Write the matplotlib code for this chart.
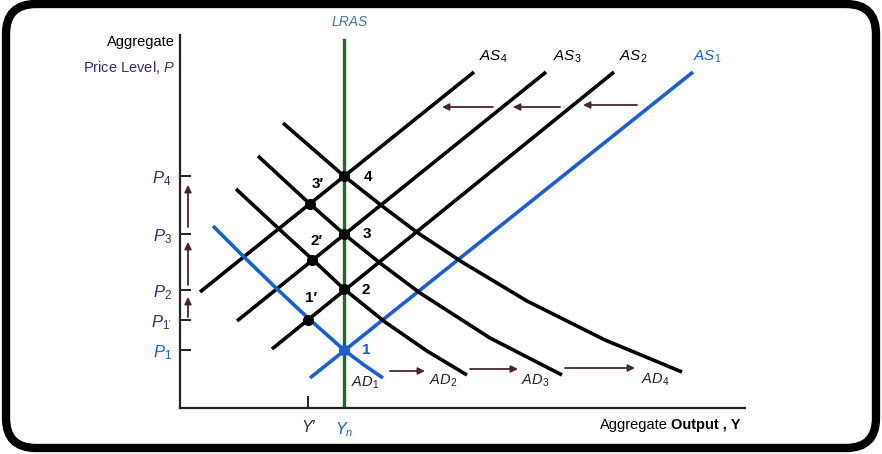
import matplotlib.pyplot as plt
from matplotlib.patches import FancyBboxPatch

plt.rcParams["font.family"] = ["Liberation Sans", "DejaVu Sans"]
plt.rcParams["mathtext.fontset"] = "custom"
plt.rcParams["mathtext.rm"] = "Liberation Sans"
plt.rcParams["mathtext.it"] = "Liberation Sans:italic"
plt.rcParams["mathtext.bf"] = "Liberation Sans:bold"

BLUE = "#1a5fd6"
GREEN = "#1f6b1f"
ARROW = "#4a2433"
PURPLE = "#3b2a6b"

# price levels and output levels
y_n = 16.4
y_prime = 12.8
p_levels = [5.8, 8.8, 11.8, 17.4, 23.2]
p_labels = [r"$P_1$", r"$P_{1'}$", r"$P_2$", r"$P_3$", r"$P_4$"]
p_colors = [BLUE, PURPLE, PURPLE, PURPLE, PURPLE]

# aggregate supply lines (start, end)
as_names = [r"$AS_1$", r"$AS_2$", r"$AS_3$", r"$AS_4$"]
as_x = [(13.0, 51.3), (9.2, 43.4), (5.7, 36.6), (2.0, 29.4)]
as_y = [(3.0, 33.6), (5.9, 33.6), (8.7, 33.6), (11.6, 33.6)]
as_label_x = [52.7, 45.3, 38.7, 31.3]

# aggregate demand curves, read point by point
ad_names = [r"$AD_1$", r"$AD_2$", r"$AD_3$", r"$AD_4$"]
ad1_x = [3.3, 6.4, 9.6, 12.8, 16.4, 18.4, 20.3]
ad1_y = [18.2, 15.1, 12.0, 9.0, 5.8, 4.3, 3.0]
ad2_x = [5.6, 9.8, 13.2, 16.4, 20.5, 24.7, 28.7]
ad2_y = [21.9, 18.0, 14.9, 11.9, 8.6, 5.7, 3.3]
ad3_x = [7.8, 13.0, 16.4, 20.0, 24.0, 31.0, 38.2]
ad3_y = [25.2, 20.4, 17.4, 14.5, 11.5, 7.0, 3.3]
ad4_x = [10.3, 16.4, 20.2, 23.8, 28.2, 34.7, 42.5, 50.2]
ad4_y = [28.5, 23.2, 20.2, 17.5, 14.6, 10.7, 6.8, 3.6]
ad_label_x = [18.5, 26.3, 35.5, 47.5]
ad_label_y = [2.5, 2.7, 2.7, 2.8]

# equilibrium points
pt_x = [16.4, 12.8, 16.4, 13.2, 16.4, 13.0, 16.4]
pt_y = [5.8, 8.8, 11.9, 14.8, 17.4, 20.4, 23.2]
pt_names = ["1", "1\u2032", "2", "2\u2032", "3", "3\u2032", "4"]
pt_label_x = [18.6, 13.1, 18.6, 13.7, 18.7, 13.8, 18.8]
pt_label_y = [5.8, 11.0, 11.8, 16.7, 17.4, 22.4, 23.1]

# shift arrows (start x, end x, y)
as_shift = [(31.3, 26.2, 30.1), (38.0, 33.3, 30.1), (45.7, 40.3, 30.3)]
ad_shift = [(21.0, 24.5, 3.7), (29.0, 33.8, 3.9), (38.5, 45.5, 4.0)]
p_shift = [(9.1, 11.1), (12.3, 16.6), (18.1, 22.3)]

fig = plt.figure(figsize=(8.82, 4.54), dpi=100)

# rounded frame around the whole picture
bg = fig.add_axes((0, 0, 1, 1))
bg.set_xlim(0, 882)
bg.set_ylim(454, 0)
bg.axis("off")
bg.add_patch(FancyBboxPatch((6, 4), 870, 444, boxstyle="round,pad=0,rounding_size=30",
                            facecolor="white", edgecolor="black", linewidth=6))

ax = fig.add_axes((180 / 882, 46 / 454, 565 / 882, 373 / 454))
ax.patch.set_visible(False)
ax.set_xlim(0, 56.5)
ax.set_ylim(0, 37.3)
for side in ("top", "right"):
    ax.spines[side].set_visible(False)
for side in ("left", "bottom"):
    ax.spines[side].set_linewidth(1.6)
    ax.spines[side].set_color("#222222")

# LRAS
ax.plot([y_n, y_n], [0, 36.8], color=GREEN, lw=2.4, zorder=2)
ax.text(y_n + 0.6, 38.6, "LRAS", fontstyle="italic", color="#4a7a8a", fontsize=10,
        ha="center", va="center", clip_on=False)

for i, (xs, ys) in enumerate(zip(as_x, as_y)):
    c = BLUE if i == 0 else "black"
    ax.plot(xs, ys, color=c, lw=2.6, solid_capstyle="butt", zorder=3)
    ax.text(as_label_x[i], 35.1, as_names[i], color=c, fontsize=11, ha="center",
            va="center", clip_on=False)

ad_x = [ad1_x, ad2_x, ad3_x, ad4_x]
ad_y = [ad1_y, ad2_y, ad3_y, ad4_y]
for i in range(4):
    c = BLUE if i == 0 else "black"
    ax.plot(ad_x[i], ad_y[i], color=c, lw=2.6, solid_capstyle="butt",
            solid_joinstyle="round", zorder=3)
    ax.text(ad_label_x[i], ad_label_y[i], ad_names[i], color="#222222", fontsize=10.5,
            ha="center", va="center")

for i in range(len(pt_x)):
    c = BLUE if i == 0 else "black"
    ax.plot(pt_x[i], pt_y[i], "o", color=c, ms=7, zorder=5)
    ax.text(pt_label_x[i], pt_label_y[i], pt_names[i], color=c, fontsize=11,
            fontweight="bold", ha="center", va="center", zorder=6)

arrow_props = dict(arrowstyle="-|>", color=ARROW, lw=1.3, mutation_scale=10,
                   shrinkA=0, shrinkB=0)
for x0, x1, y in as_shift + ad_shift:
    ax.annotate("", xy=(x1, y), xytext=(x0, y), arrowprops=arrow_props)
for y0, y1 in p_shift:
    ax.annotate("", xy=(0.8, y1), xytext=(0.8, y0), arrowprops=arrow_props)

# axes ticks
ax.set_yticks(p_levels)
ax.set_yticklabels(p_labels, fontsize=12)
for lab, c in zip(ax.get_yticklabels(), p_colors):
    lab.set_color(c)
ax.tick_params(axis="y", direction="in", length=8, width=1.4, pad=6, color="#222222")
ax.set_xticks([y_prime, y_n])
ax.set_xticklabels(["Y\u2032", r"$Y_n$"], fontsize=11.5)
ax.get_xticklabels()[0].set_color("#333333")
ax.get_xticklabels()[0].set_fontstyle("italic")
ax.get_xticklabels()[1].set_color(BLUE)
ax.tick_params(axis="x", direction="in", length=9, width=1.4, pad=9, color="#222222")

# axis titles
ax.text(-0.5, 36.6, "Aggregate", fontsize=10.5, ha="right", va="center", clip_on=False)
ax.text(-0.5, 34.0, "Price Level, $P$", fontsize=10.5, color=PURPLE, ha="right",
        va="center", clip_on=False)
ax.text(48.8, -1.7, "Aggregate", fontsize=10.5, ha="right", va="center", clip_on=False)
ax.text(49.1, -1.7, "Output , Y", fontsize=10.5, fontweight="bold", ha="left",
        va="center", clip_on=False)

fig.savefig("out.png", dpi=100)
